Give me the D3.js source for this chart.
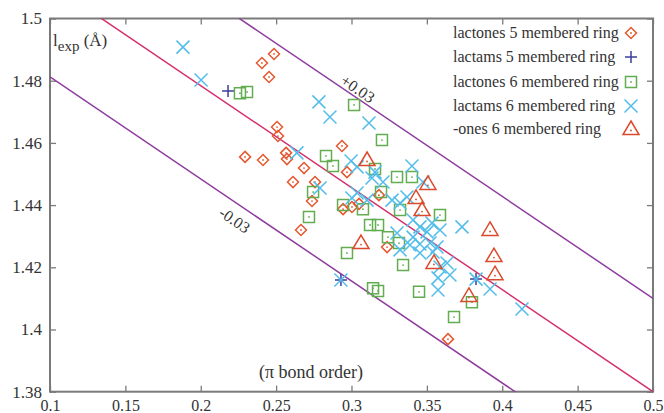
<!DOCTYPE html>
<html>
<head>
<meta charset="utf-8">
<script src="https://cdn.jsdelivr.net/npm/d3@7/dist/d3.min.js"></script>
<style>
  html, body { margin: 0; padding: 0; background: #fff; }
  svg { display: block; }
  text { font-family: "Liberation Serif", "DejaVu Serif", serif; fill: #333; }
</style>
</head>
<body>
<svg id="chart" width="664" height="413"></svg>
<script>
// Experimental bond length l_exp (Å) against π bond order, per compound family.
const lactones5X = [0.2406, 0.2486, 0.2453, 0.2506, 0.2512, 0.2937, 0.2294, 0.2413, 0.2566, 0.2572, 0.2685,
                    0.2970, 0.2612, 0.2758, 0.2738, 0.2944, 0.3003, 0.3050, 0.3182, 0.2665, 0.3236, 0.3640];
const lactones5Y = [1.4857, 1.4886, 1.4812, 1.4651, 1.4622, 1.4590, 1.4555, 1.4545, 1.4568, 1.4548, 1.4519,
                    1.4506, 1.4474, 1.4474, 1.4413, 1.4387, 1.4394, 1.4404, 1.4432, 1.4320, 1.4265, 1.3969];

const lactams5X = [0.2181, 0.2930, 0.3826];
const lactams5Y = [1.4767, 1.4159, 1.4162];

const lactones6X = [0.2260, 0.2307, 0.3017, 0.2831, 0.2877, 0.3202, 0.3156, 0.3302, 0.3401, 0.3196, 0.2745,
                    0.2944, 0.3076, 0.2718, 0.3322, 0.3587, 0.3123, 0.3176, 0.3242, 0.3315, 0.2970, 0.3342,
                    0.3143, 0.3176, 0.3448, 0.3799, 0.3680];
const lactones6Y = [1.4760, 1.4764, 1.4722, 1.4558, 1.4526, 1.4609, 1.4516, 1.4490, 1.4490, 1.4442, 1.4442,
                    1.4400, 1.4387, 1.4362, 1.4384, 1.4368, 1.4336, 1.4336, 1.4297, 1.4278, 1.4246, 1.4207,
                    1.4133, 1.4124, 1.4121, 1.4088, 1.4040];

const lactams6X = [0.1882, 0.2002, 0.2784, 0.2857, 0.3116, 0.2638, 0.2997, 0.3037, 0.3136, 0.3156, 0.3401,
                   0.3474, 0.3209, 0.2791, 0.3037, 0.3003, 0.3103, 0.3269, 0.3322, 0.3368, 0.3408, 0.3454,
                   0.3501, 0.3534, 0.3587, 0.3733, 0.3408, 0.3302, 0.3388, 0.3454, 0.3521, 0.3567, 0.3322,
                   0.3454, 0.3541, 0.3634, 0.3587, 0.3653, 0.3574, 0.3574, 0.3919, 0.4131, 0.3826, 0.2930];
const lactams6Y = [1.4908, 1.4802, 1.4732, 1.4683, 1.4664, 1.4568, 1.4542, 1.4523, 1.4487, 1.4506, 1.4526,
                   1.4474, 1.4474, 1.4455, 1.4439, 1.4423, 1.4416, 1.4416, 1.4407, 1.4426, 1.4352, 1.4330,
                   1.4314, 1.4342, 1.4320, 1.4330, 1.4297, 1.4310, 1.4272, 1.4275, 1.4278, 1.4265, 1.4256,
                   1.4246, 1.4249, 1.4214, 1.4201, 1.4175, 1.4166, 1.4127, 1.4130, 1.4066, 1.4162, 1.4159];

const ones6X = [0.3103, 0.3507, 0.3428, 0.3468, 0.3063, 0.3547, 0.3919, 0.3945, 0.3952, 0.3779];
const ones6Y = [1.4545, 1.4468, 1.4423, 1.4384, 1.4278, 1.4214, 1.4320, 1.4236, 1.4178, 1.4108];

const seriesNames = ["lactones 5 membered ring", "lactams 5 membered ring", "lactones 6 membered ring",
                     "lactams 6 membered ring", "-ones 6 membered ring"];

// Linear correlation and its ±0.03 Å band
const fitIntercept = 1.544;
const fitSlope = -0.328;
const bandOffsets = [0, 0.03, -0.03];
const bandLabels = ["", "+0.03", "-0.03"];

const xTicks = [0.1, 0.15, 0.2, 0.25, 0.3, 0.35, 0.4, 0.45, 0.5];
const xTickLabels = ["0.1", "0.15", "0.2", "0.25", "0.3", "0.35", "0.4", "0.45", "0.5"];
const yTicks = [1.38, 1.4, 1.42, 1.44, 1.46, 1.48, 1.5];
const yTickLabels = ["1.38", "1.4", "1.42", "1.44", "1.46", "1.48", "1.5"];

const plotLeft = 50, plotRight = 653, plotTop = 18.5, plotBottom = 391.7;
const x = d3.scaleLinear().domain([0.1, 0.5]).range([plotLeft, plotRight]);
const y = d3.scaleLinear().domain([1.38, 1.5]).range([plotBottom, plotTop]);

const svg = d3.select("#chart");
const axisColor = "#7a7a7a";
const serif = "'Liberation Serif', 'DejaVu Serif', serif";

svg.append("defs").append("clipPath").attr("id", "plot-clip")
  .append("rect").attr("x", plotLeft).attr("y", plotTop)
  .attr("width", plotRight - plotLeft).attr("height", plotBottom - plotTop);

// Axes with inward ticks on all four sides
function styleAxis(size) {
  return g => {
    g.attr("font-family", serif).attr("font-size", size);
    g.select(".domain").remove();
    g.selectAll(".tick line").attr("stroke", axisColor).attr("stroke-width", 1.3);
    g.selectAll(".tick text").attr("fill", "#333");
  };
}
svg.append("g").attr("transform", `translate(0,${plotBottom})`)
  .call(d3.axisBottom(x).tickValues(xTicks).tickSize(-6).tickPadding(8)
    .tickFormat((d, i) => xTickLabels[i]))
  .call(styleAxis(16));
svg.append("g").attr("transform", `translate(0,${plotTop})`)
  .call(d3.axisTop(x).tickValues(xTicks).tickSize(-6).tickFormat(""))
  .call(styleAxis(16));
svg.append("g").attr("transform", `translate(${plotLeft},0)`)
  .call(d3.axisLeft(y).tickValues(yTicks).tickSize(-6).tickPadding(8)
    .tickFormat((d, i) => yTickLabels[i]))
  .call(styleAxis(17));
svg.append("g").attr("transform", `translate(${plotRight},0)`)
  .call(d3.axisRight(y).tickValues(yTicks).tickSize(-6).tickFormat(""))
  .call(styleAxis(17));

svg.append("rect").attr("x", plotLeft).attr("y", plotTop)
  .attr("width", plotRight - plotLeft).attr("height", plotBottom - plotTop)
  .attr("fill", "none").attr("stroke", axisColor).attr("stroke-width", 2);

// Correlation lines
const plot = svg.append("g").attr("clip-path", "url(#plot-clip)");
bandOffsets.forEach(off => {
  const f = v => fitIntercept + fitSlope * v + off;
  plot.append("line")
    .attr("x1", x(0.1)).attr("y1", y(f(0.1)))
    .attr("x2", x(0.5)).attr("y2", y(f(0.5)))
    .attr("stroke", off === 0 ? "#d4306e" : "#8e3c9e")
    .attr("stroke-width", 1.5);
});

// Band labels set along their lines
const angle = Math.atan2(y(fitSlope * 0.1) - y(0), x(0.2) - x(0.1)) * 180 / Math.PI;
const bandLabelPos = [null, { bx: 0.3042, dy: -10 }, { bx: 0.2225, dy: 18 }];
bandOffsets.forEach((off, i) => {
  if (!bandLabelPos[i]) return;
  const p = bandLabelPos[i];
  const px = x(p.bx), py = y(fitIntercept + fitSlope * p.bx + off) + p.dy;
  svg.append("text").attr("transform", `translate(${px},${py}) rotate(${angle})`)
    .attr("text-anchor", "middle").attr("dy", "0.35em")
    .style("font-size", "16px").text(bandLabels[i]);
});

// Marker shapes
const shapes = {
  diamond: "M0,-5.5L5.5,0L0,5.5L-5.5,0Z",
  plus: "M-6,0H6M0,-6V6",
  square: "M-5.5,-5.5H5.5V5.5H-5.5Z",
  cross: "M-6.5,-6.5L6.5,6.5M-6.5,6.5L6.5,-6.5",
  triangle: "M0,-8L8,5.5L-8,5.5Z"
};
const series = [
  { xs: lactones5X, ys: lactones5Y, shape: "diamond", color: "#e5582f", dot: true },
  { xs: lactams5X, ys: lactams5Y, shape: "plus", color: "#3d3f9c", dot: false },
  { xs: lactones6X, ys: lactones6Y, shape: "square", color: "#62ad4f", dot: true },
  { xs: lactams6X, ys: lactams6Y, shape: "cross", color: "#52bde9", dot: false },
  { xs: ones6X, ys: ones6Y, shape: "triangle", color: "#dc4a2c", dot: true }
];

function drawMarker(g, shape, color, dot, cx, cy) {
  const m = g.append("g").attr("transform", `translate(${cx},${cy})`);
  m.append("path").attr("d", shapes[shape]).attr("fill", "none")
    .attr("stroke", color).attr("stroke-width", 1.5).attr("stroke-linejoin", "miter");
  if (dot) m.append("circle").attr("cx", 0).attr("cy", shape === "triangle" ? 1.5 : 0)
    .attr("r", 0.9).attr("fill", color);
}

series.forEach(s => {
  const g = svg.append("g");
  s.xs.forEach((v, i) => drawMarker(g, s.shape, s.color, s.dot, x(v), y(s.ys[i])));
});

// Legend
const legendRows = [38, 62, 87, 111, 134];
series.forEach((s, i) => {
  svg.append("text").attr("x", 453).attr("y", legendRows[i])
    .style("font-size", "16px").text(seriesNames[i]);
  drawMarker(svg, s.shape, s.color, s.dot, 631, legendRows[i] - 5);
});

// Axis titles
const yTitle = svg.append("text").attr("x", 53).attr("y", 46).style("font-size", "17px");
yTitle.append("tspan").text("l");
yTitle.append("tspan").attr("dy", 5).style("font-size", "15px").text("exp");
yTitle.append("tspan").attr("dy", -5).text(" (Å)");

svg.append("text").attr("x", 311).attr("y", 378).attr("text-anchor", "middle")
  .style("font-size", "18px").text("(π bond order)");
</script>
</body>
</html>
